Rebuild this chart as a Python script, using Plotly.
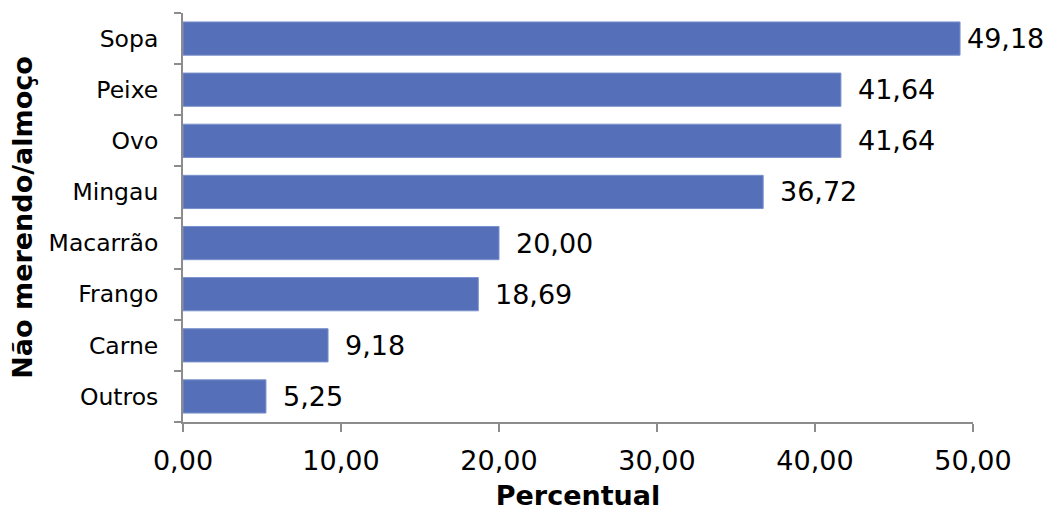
import plotly.graph_objects as go

categories = ["Sopa", "Peixe", "Ovo", "Mingau", "Macarrão", "Frango", "Carne", "Outros"]
values = [49.18, 41.64, 41.64, 36.72, 20.00, 18.69, 9.18, 5.25]
x_ticks = [0, 10, 20, 30, 40, 50]

font_family = "DejaVu Sans, Verdana, sans-serif"
axis_gray = "#8c8c8c"
x_max = 50

fig = go.Figure(
    go.Bar(
        y=categories,
        x=values,
        orientation="h",
        marker=dict(color="#5570b8", line=dict(color="#7a90cc", width=1)),
        width=0.65,
        hoverinfo="x+y",
    )
)

# value labels to the right of each bar; the longest one is pulled in closer
# so that it stays inside the figure
for cat, val in zip(categories, values):
    fig.add_annotation(
        x=val,
        y=cat,
        text=f"{val:.2f}".replace(".", ","),
        showarrow=False,
        xanchor="left",
        yanchor="middle",
        xshift=5 if val > 0.96 * x_max else 15,
        font=dict(size=27, color="black", family=font_family),
    )

fig.update_layout(
    width=1047,
    height=511,
    margin=dict(l=183, r=74, t=13, b=89),
    paper_bgcolor="white",
    plot_bgcolor="white",
    separators=",.",
    showlegend=False,
    font=dict(family=font_family, color="black"),
)

fig.update_xaxes(
    range=[0, x_max],
    tickvals=x_ticks,
    tickformat=".2f",
    tickfont=dict(size=27),
    showgrid=False,
    zeroline=False,
    showline=True,
    linecolor=axis_gray,
    linewidth=2,
    ticks="outside",
    ticklen=8,
    tickwidth=2,
    tickcolor=axis_gray,
    ticklabelstandoff=6,
    automargin=False,
    title=dict(text="<b>Percentual</b>", font=dict(size=27), standoff=14),
)

fig.update_yaxes(
    categoryorder="array",
    categoryarray=categories[::-1],
    tickfont=dict(size=23.5),
    showgrid=False,
    zeroline=False,
    showline=True,
    linecolor=axis_gray,
    linewidth=2,
    ticks="outside",
    ticklen=7,
    tickwidth=2,
    tickcolor=axis_gray,
    tickson="boundaries",
    ticklabelstandoff=18,
    automargin=False,
    title=dict(text="<b>Não merendo/almoço</b>", font=dict(size=27), standoff=8),
)

fig.write_html("out.html")
